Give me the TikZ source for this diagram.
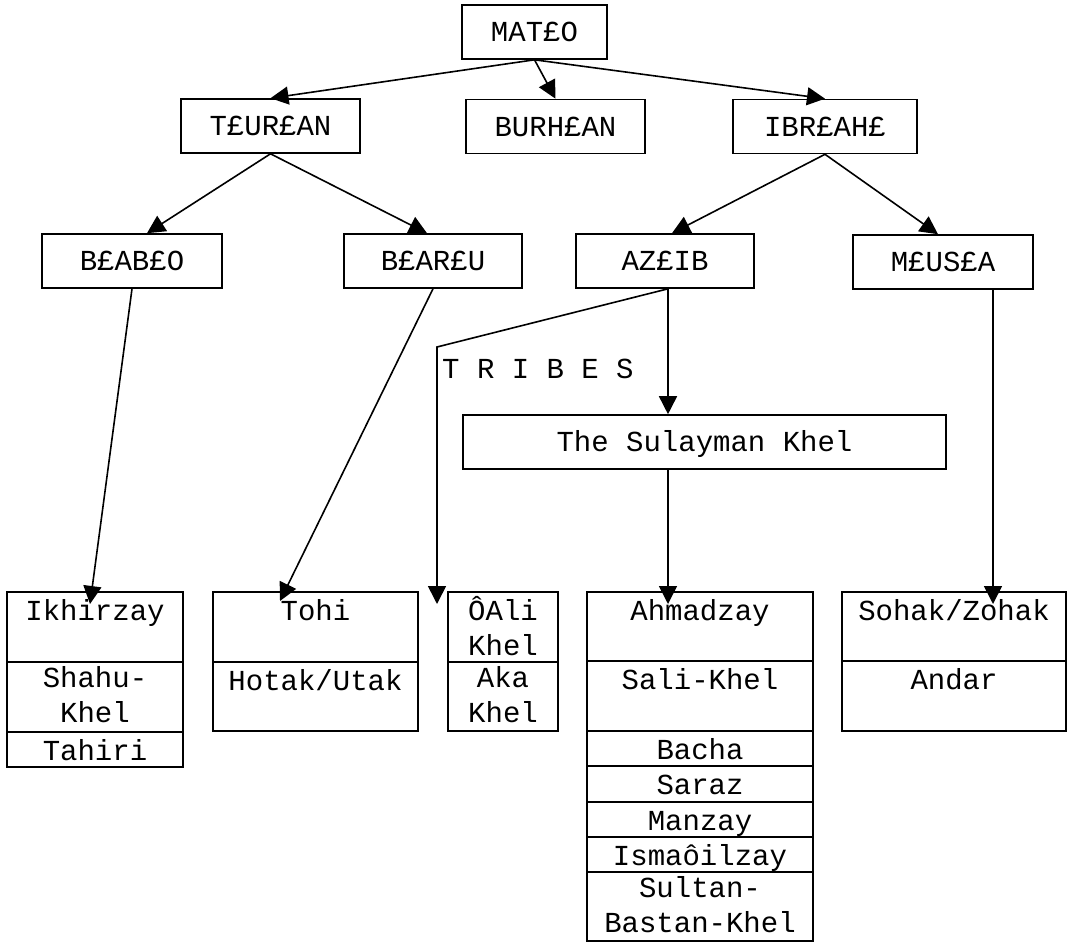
\documentclass[tikz,border=0pt]{standalone}
\usepackage{fontspec}
\newfontfamily\tribefont{Liberation Mono}
\usetikzlibrary{arrows.meta}

\begin{document}
\begin{tikzpicture}[x=1pt,y=-1pt,
  every node/.style={font=\fontsize{29}{35}\selectfont\tribefont},
  box/.style={draw, line width=1.6pt, inner sep=0pt, minimum height=54pt, text height=19pt, text depth=0pt},
  cell/.style={draw, line width=1.6pt, inner sep=0pt, outer sep=0pt, anchor=north},
  txt/.style={anchor=north, inner sep=0pt, yshift=-4pt, align=center, execute at begin node=\strut},
  arr/.style={line width=1.6pt, -{Triangle[length=18pt,width=18pt]}}]
%\draw[help lines] (0,0) grid[step=50] (1068,942);
\useasboundingbox (0,0) rectangle (1068,942);

% family heads
\node[box, minimum width=145pt] (mato) at (534.5,32) {MAT£O};
\node[box, minimum width=179pt] (turan) at (270.5,126) {T£UR£AN};
\node[box, minimum width=179pt] (burhan) at (555.5,126.5) {BURH£AN};
\node[box, minimum width=184pt] (ibrahe) at (825,126.5) {IBR£AH£};
\node[box, minimum width=180pt] (babo) at (132,261) {B£AB£O};
\node[box, minimum width=178pt] (baru) at (433,261) {B£AR£U};
\node[box, minimum width=178pt] (azib) at (665,261) {AZ£IB};
\node[box, minimum width=180pt] (musa) at (943,262) {M£US£A};
\node[box, minimum width=483pt] (sulay) at (704.5,442) {The Sulayman Khel};

\node[anchor=base west, inner sep=0pt] (tribes) at (442,378) {T R I B E S};

% tribes
\node[cell, minimum width=176pt, minimum height=70pt] (ikh) at (95,592) {};
\node[cell, minimum width=176pt, minimum height=70pt] (shahu) at (ikh.south) {};
\node[cell, minimum width=176pt, minimum height=35pt] (tahiri) at (shahu.south) {};
\node[txt] (ikht) at (ikh.north) {Ikhirzay};
\node[txt] (shahut) at (shahu.north) {Shahu-\\Khel};
\node[txt] (tahirit) at (tahiri.north) {Tahiri};

\node[cell, minimum width=205pt, minimum height=70pt] (tohi) at (315.5,592) {};
\node[cell, minimum width=205pt, minimum height=69pt] (hotak) at (tohi.south) {};
\node[txt] (tohit) at (tohi.north) {Tohi};
\node[txt] (hotakt) at (hotak.north) {Hotak/Utak};

\node[cell, minimum width=110pt, minimum height=70pt] (ali) at (503,592) {};
\node[cell, minimum width=110pt, minimum height=69pt] (aka) at (ali.south) {};
\node[txt] (alit) at (ali.north) {ÔAli\\Khel};
\node[txt] (akat) at (aka.north) {Aka\\Khel};

\node[cell, minimum width=226pt, minimum height=69pt] (ahm) at (700,592) {};
\node[cell, minimum width=226pt, minimum height=70pt] (sali) at (ahm.south) {};
\node[cell, minimum width=226pt, minimum height=35pt] (bacha) at (sali.south) {};
\node[cell, minimum width=226pt, minimum height=36pt] (saraz) at (bacha.south) {};
\node[cell, minimum width=226pt, minimum height=35pt] (manzay) at (saraz.south) {};
\node[cell, minimum width=226pt, minimum height=35pt] (isma) at (manzay.south) {};
\node[cell, minimum width=226pt, minimum height=69pt] (sultan) at (isma.south) {};
\node[txt] (ahmt) at (ahm.north) {Ahmadzay};
\node[txt] (salit) at (sali.north) {Sali-Khel};
\node[txt] (bachat) at (bacha.north) {Bacha};
\node[txt] (sarazt) at (saraz.north) {Saraz};
\node[txt] (manzayt) at (manzay.north) {Manzay};
\node[txt] (ismat) at (isma.north) {Ismaôilzay};
\node[txt] (sultant) at (sultan.north) {Sultan-\\Bastan-Khel};

\node[cell, minimum width=224pt, minimum height=69pt] (sohak) at (954,592) {};
\node[cell, minimum width=224pt, minimum height=70pt] (andar) at (sohak.south) {};
\node[txt] (sohakt) at (sohak.north) {Sohak/Zohak};
\node[txt] (andart) at (andar.north) {Andar};

% where the lower arrows end
\coordinate (ikhin) at (90,604);
\coordinate (tohiin) at (280,601);
\coordinate (aliin) at (437,604);
\coordinate (bend) at (437,347);
\coordinate (ahmin) at (668,604);
\coordinate (sohakin) at (993,604);

\draw[arr] (mato.south) -- (turan.north);
\draw[arr] (mato.south) -- (burhan.north);
\draw[arr] (mato.south) -- (ibrahe.north);
\draw[arr] (turan.south) -- ([xshift=15pt]babo.north);
\draw[arr] (turan.south) -- ([xshift=-6pt]baru.north);
\draw[arr] (ibrahe.south) -- ([xshift=7pt]azib.north);
\draw[arr] (ibrahe.south) -- ([xshift=-5pt]musa.north);

\draw[arr] (babo.south) -- (ikhin);
\draw[arr] (baru.south) -- (tohiin);
\draw[arr] (azib.south -| ahmin) -- (bend) -- (aliin);
\draw[arr] (azib.south -| ahmin) -- (sulay.north -| ahmin);
\draw[arr] (sulay.south -| ahmin) -- (ahmin);
\draw[arr] (musa.south -| sohakin) -- (sohakin);
\end{tikzpicture}
\end{document}
